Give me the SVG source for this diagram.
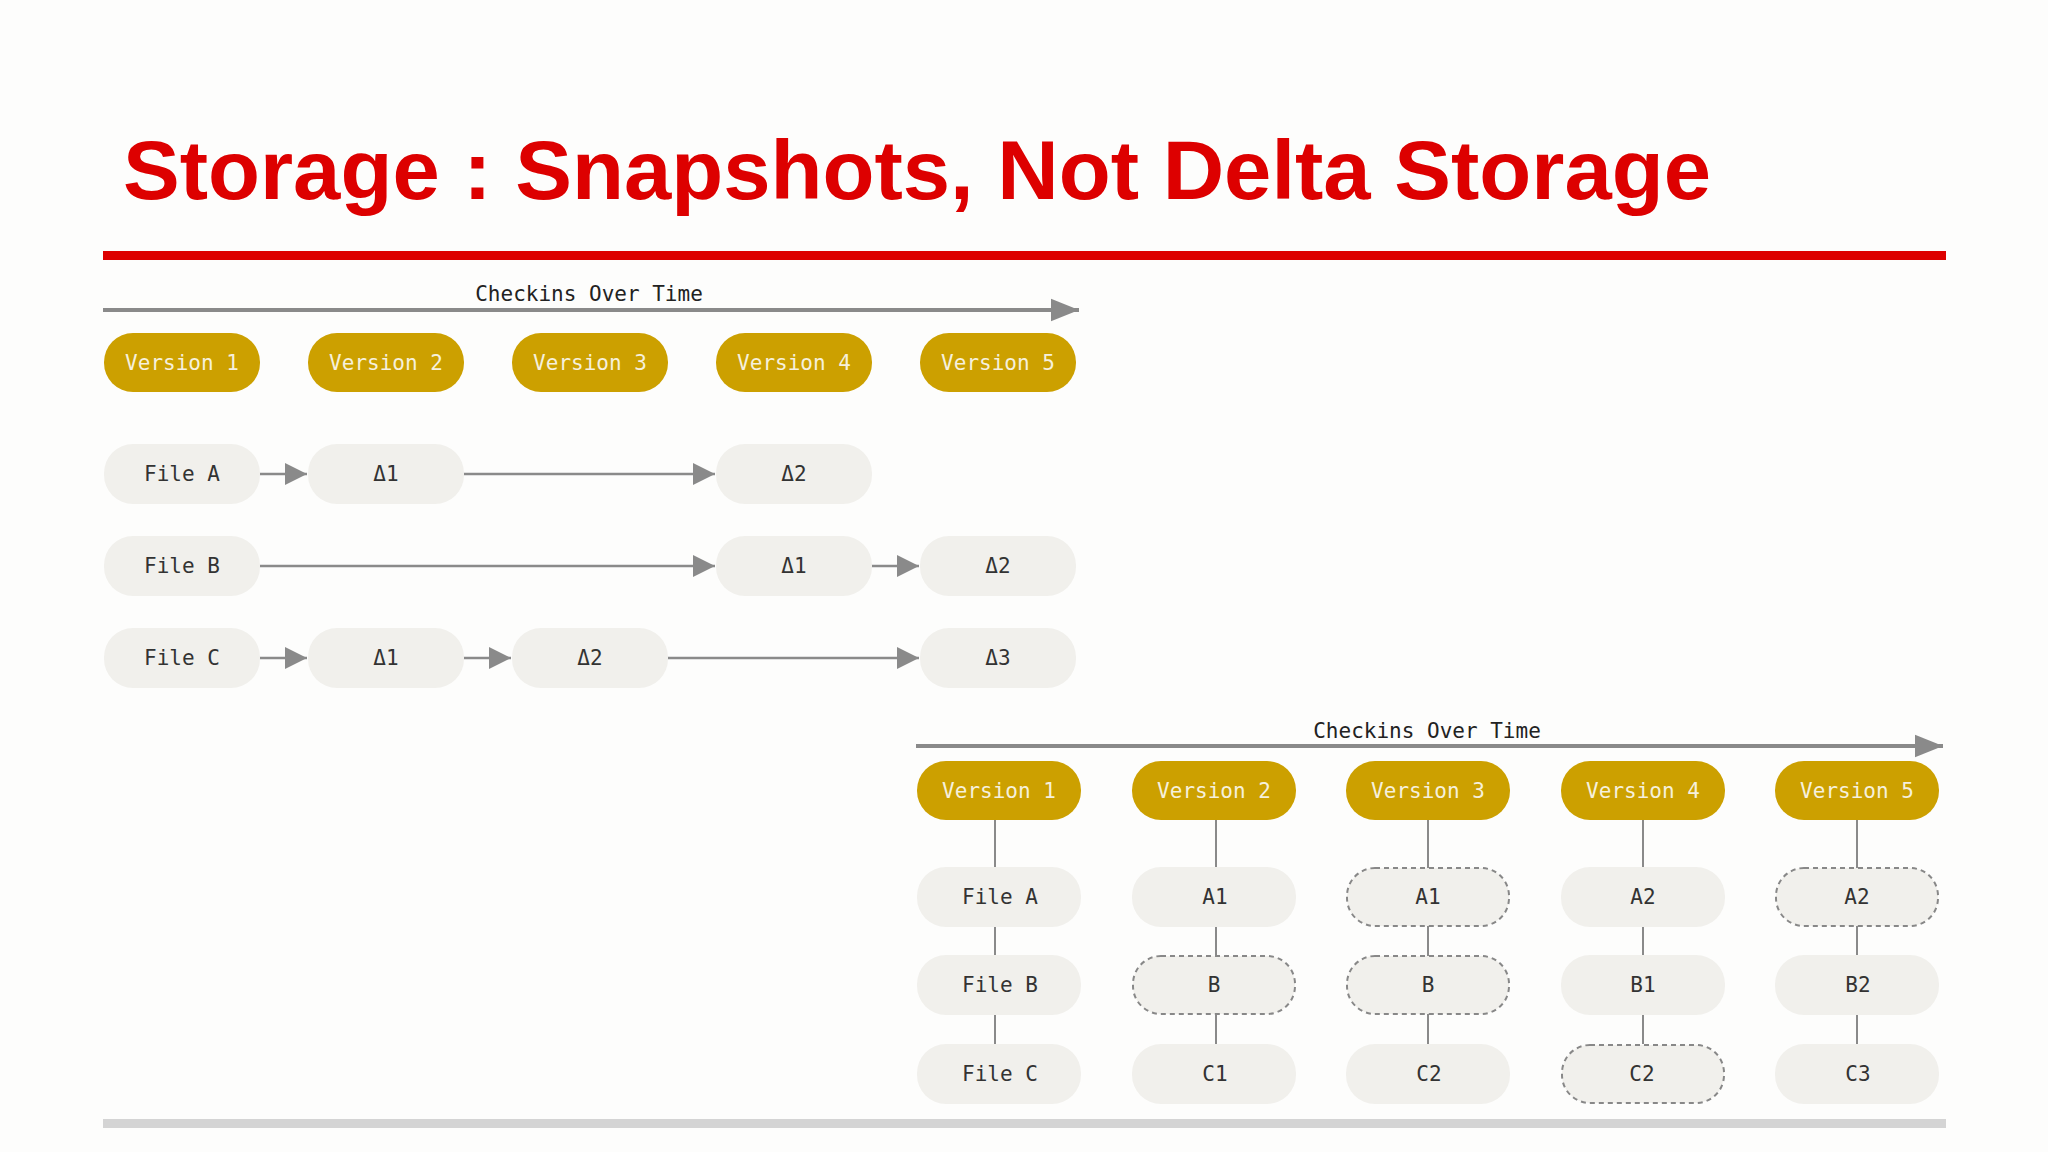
<svg xmlns="http://www.w3.org/2000/svg" width="2048" height="1152" viewBox="0 0 2048 1152">
<defs>
<marker id="ah" viewBox="0 0 10 10" refX="10" refY="5" markerWidth="7" markerHeight="7" markerUnits="userSpaceOnUse" orient="auto"><path d="M0,0 L10,5 L0,10 z" fill="#8a8a8a"/></marker>
<marker id="ahs" viewBox="0 0 10 10" refX="10" refY="5" markerWidth="22" markerHeight="22" markerUnits="userSpaceOnUse" orient="auto"><path d="M0,0 L10,5 L0,10 z" fill="#8a8a8a"/></marker>
<marker id="ahb" viewBox="0 0 10 10" refX="10" refY="5" markerWidth="28" markerHeight="28" markerUnits="userSpaceOnUse" orient="auto"><path d="M0,1 L10,5 L0,9 z" fill="#8a8a8a"/></marker>
</defs>
<style>
.v{fill:#cca000}
.f{fill:#f1f0ec}
.d{fill:#f1f0ec;stroke:#888;stroke-width:2;stroke-dasharray:5,4}
.vt{font-family:"DejaVu Sans Mono",monospace;font-size:21px;fill:#f6f0dc;text-anchor:middle;dominant-baseline:central}
.ft{font-family:"DejaVu Sans Mono",monospace;font-size:21px;fill:#333;text-anchor:middle;dominant-baseline:central}
.lbl{font-family:"DejaVu Sans Mono",monospace;font-size:21px;fill:#222;text-anchor:middle}
.c{stroke:#8a8a8a;stroke-width:2.5;fill:none}
.vl{stroke:#8a8a8a;stroke-width:2;fill:none}
</style>
<rect width="2048" height="1152" fill="#fdfdfc"/>
<text x="123" y="199" font-family="Liberation Sans, Arial, sans-serif" font-weight="bold" font-size="84" fill="#dd0000" textLength="1588" lengthAdjust="spacingAndGlyphs">Storage : Snapshots, Not Delta Storage</text>
<rect x="103" y="251" width="1843" height="9" fill="#dd0000"/>
<rect x="103" y="1119" width="1843" height="9" fill="#d4d4d4"/>
<g id="connectors">
<line x1="103" y1="310" x2="1079" y2="310" stroke="#8a8a8a" stroke-width="4" marker-end="url(#ahb)"/>
<line x1="916" y1="746" x2="1943" y2="746" stroke="#8a8a8a" stroke-width="4" marker-end="url(#ahb)"/>
<line class="c" x1="260" y1="474" x2="307" y2="474" marker-end="url(#ahs)"/>
<line class="c" x1="463" y1="474" x2="715" y2="474" marker-end="url(#ahs)"/>
<line class="c" x1="260" y1="566" x2="715" y2="566" marker-end="url(#ahs)"/>
<line class="c" x1="871" y1="566" x2="919" y2="566" marker-end="url(#ahs)"/>
<line class="c" x1="260" y1="658" x2="307" y2="658" marker-end="url(#ahs)"/>
<line class="c" x1="463" y1="658" x2="511" y2="658" marker-end="url(#ahs)"/>
<line class="c" x1="667" y1="658" x2="919" y2="658" marker-end="url(#ahs)"/>
<line class="vl" x1="995" y1="820" x2="995" y2="1044"/>
<line class="vl" x1="1216" y1="820" x2="1216" y2="1044"/>
<line class="vl" x1="1428" y1="820" x2="1428" y2="1044"/>
<line class="vl" x1="1643" y1="820" x2="1643" y2="1044"/>
<line class="vl" x1="1857" y1="820" x2="1857" y2="1044"/>
</g>
<text class="lbl" x="589" y="301">Checkins Over Time</text>
<text class="lbl" x="1427" y="738">Checkins Over Time</text>
<g id="top-versions">
<g id="t-v1"><rect class="v" x="104" y="333" width="156" height="59" rx="29"/><text class="vt" x="182" y="363">Version 1</text></g>
<g id="t-v2"><rect class="v" x="308" y="333" width="156" height="59" rx="29"/><text class="vt" x="386" y="363">Version 2</text></g>
<g id="t-v3"><rect class="v" x="512" y="333" width="156" height="59" rx="29"/><text class="vt" x="590" y="363">Version 3</text></g>
<g id="t-v4"><rect class="v" x="716" y="333" width="156" height="59" rx="29"/><text class="vt" x="794" y="363">Version 4</text></g>
<g id="t-v5"><rect class="v" x="920" y="333" width="156" height="59" rx="29"/><text class="vt" x="998" y="363">Version 5</text></g>
</g>
<g id="top-files">
<g id="t-fa"><rect class="f" x="104" y="444" width="156" height="60" rx="29"/><text class="ft" x="182" y="474">File A</text></g>
<g id="t-a1"><rect class="f" x="308" y="444" width="156" height="60" rx="29"/><text class="ft" x="386" y="474">Δ1</text></g>
<g id="t-a2"><rect class="f" x="716" y="444" width="156" height="60" rx="29"/><text class="ft" x="794" y="474">Δ2</text></g>
<g id="t-fb"><rect class="f" x="104" y="536" width="156" height="60" rx="29"/><text class="ft" x="182" y="566">File B</text></g>
<g id="t-b1"><rect class="f" x="716" y="536" width="156" height="60" rx="29"/><text class="ft" x="794" y="566">Δ1</text></g>
<g id="t-b2"><rect class="f" x="920" y="536" width="156" height="60" rx="29"/><text class="ft" x="998" y="566">Δ2</text></g>
<g id="t-fc"><rect class="f" x="104" y="628" width="156" height="60" rx="29"/><text class="ft" x="182" y="658">File C</text></g>
<g id="t-c1"><rect class="f" x="308" y="628" width="156" height="60" rx="29"/><text class="ft" x="386" y="658">Δ1</text></g>
<g id="t-c2"><rect class="f" x="512" y="628" width="156" height="60" rx="29"/><text class="ft" x="590" y="658">Δ2</text></g>
<g id="t-c3"><rect class="f" x="920" y="628" width="156" height="60" rx="29"/><text class="ft" x="998" y="658">Δ3</text></g>
</g>
<g id="bottom">
<g id="b-v1"><rect class="v" x="917" y="761" width="164" height="59" rx="29"/><text class="vt" x="999" y="791">Version 1</text></g>
<g id="b-v2"><rect class="v" x="1132" y="761" width="164" height="59" rx="29"/><text class="vt" x="1214" y="791">Version 2</text></g>
<g id="b-v3"><rect class="v" x="1346" y="761" width="164" height="59" rx="29"/><text class="vt" x="1428" y="791">Version 3</text></g>
<g id="b-v4"><rect class="v" x="1561" y="761" width="164" height="59" rx="29"/><text class="vt" x="1643" y="791">Version 4</text></g>
<g id="b-v5"><rect class="v" x="1775" y="761" width="164" height="59" rx="29"/><text class="vt" x="1857" y="791">Version 5</text></g>
<g id="b-1a"><rect class="f" x="917" y="867" width="164" height="60" rx="29"/><text class="ft" x="1000" y="897">File A</text></g>
<g id="b-1b"><rect class="f" x="917" y="955" width="164" height="60" rx="29"/><text class="ft" x="1000" y="985">File B</text></g>
<g id="b-1c"><rect class="f" x="917" y="1044" width="164" height="60" rx="29"/><text class="ft" x="1000" y="1074">File C</text></g>
<g id="b-2a"><rect class="f" x="1132" y="867" width="164" height="60" rx="29"/><text class="ft" x="1215" y="897">A1</text></g>
<g id="b-2b"><rect class="d" x="1133" y="956" width="162" height="58" rx="28"/><text class="ft" x="1214" y="985">B</text></g>
<g id="b-2c"><rect class="f" x="1132" y="1044" width="164" height="60" rx="29"/><text class="ft" x="1215" y="1074">C1</text></g>
<g id="b-3a"><rect class="d" x="1347" y="868" width="162" height="58" rx="28"/><text class="ft" x="1428" y="897">A1</text></g>
<g id="b-3b"><rect class="d" x="1347" y="956" width="162" height="58" rx="28"/><text class="ft" x="1428" y="985">B</text></g>
<g id="b-3c"><rect class="f" x="1346" y="1044" width="164" height="60" rx="29"/><text class="ft" x="1429" y="1074">C2</text></g>
<g id="b-4a"><rect class="f" x="1561" y="867" width="164" height="60" rx="29"/><text class="ft" x="1643" y="897">A2</text></g>
<g id="b-4b"><rect class="f" x="1561" y="955" width="164" height="60" rx="29"/><text class="ft" x="1643" y="985">B1</text></g>
<g id="b-4c"><rect class="d" x="1562" y="1045" width="162" height="58" rx="28"/><text class="ft" x="1642" y="1074">C2</text></g>
<g id="b-5a"><rect class="d" x="1776" y="868" width="162" height="58" rx="28"/><text class="ft" x="1857" y="897">A2</text></g>
<g id="b-5b"><rect class="f" x="1775" y="955" width="164" height="60" rx="29"/><text class="ft" x="1858" y="985">B2</text></g>
<g id="b-5c"><rect class="f" x="1775" y="1044" width="164" height="60" rx="29"/><text class="ft" x="1858" y="1074">C3</text></g>
</g>
</svg>
